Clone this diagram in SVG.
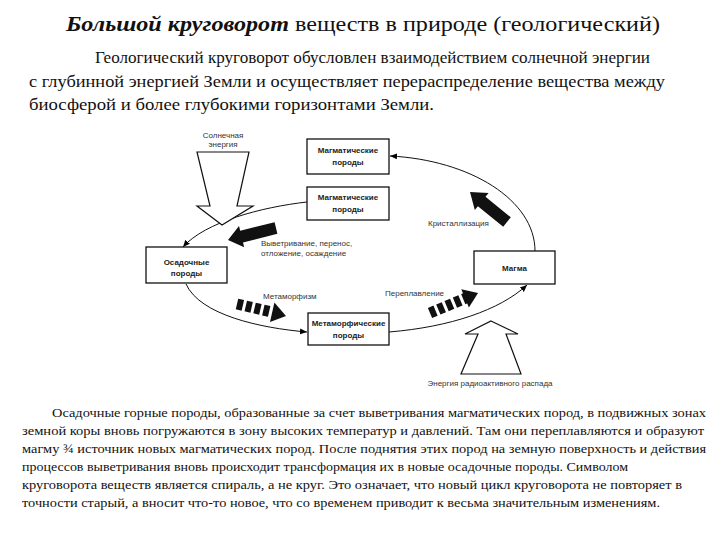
<svg xmlns="http://www.w3.org/2000/svg" width="720" height="540" viewBox="0 0 720 540">
<defs>
<marker id="ah" markerWidth="8" markerHeight="8" refX="7" refY="4" orient="auto" markerUnits="userSpaceOnUse">
<path d="M0,1 L7,4 L0,7 Z" fill="#000"/>
</marker>
<style>
.serif{font-family:"Liberation Serif","Times New Roman",serif;fill:#111}
.lbl{font-family:"Liberation Sans",Arial,sans-serif;font-size:8px;fill:#333}
.bx{fill:#fff;stroke:#111;stroke-width:1.3}
.bt{font-family:"Liberation Sans",Arial,sans-serif;font-size:8px;font-weight:bold;fill:#222;text-anchor:middle}
.cv{fill:none;stroke:#111;stroke-width:1}
.hollow{fill:#fff;stroke:#111;stroke-width:1.2;stroke-linejoin:miter}
.blk{fill:#111}
.dash{stroke:#111;stroke-width:11;stroke-dasharray:6 3;fill:none}
</style>
</defs>
<rect width="720" height="540" fill="#fff"/>

<text class="serif" x="66" y="31" font-size="21" textLength="594" lengthAdjust="spacingAndGlyphs"><tspan font-weight="bold" font-style="italic">Большой круговорот</tspan> веществ в природе (геологический)</text>

<g class="serif" font-size="17">
<text x="95" y="63" textLength="555" lengthAdjust="spacingAndGlyphs">Геологический круговорот обусловлен взаимодействием солнечной энергии</text>
<text x="29" y="87" textLength="636" lengthAdjust="spacingAndGlyphs">с глубинной энергией Земли и осуществляет перераспределение вещества между</text>
<text x="29" y="110" textLength="405" lengthAdjust="spacingAndGlyphs">биосферой и более глубокими горизонтами Земли.</text>
</g>

<g id="connectors">
<path class="cv" d="M535,251 C535,200 470,160 390,156" marker-end="url(#ah)"/>
<path class="cv" d="M307,202 C262,207 205,222 183,247" marker-end="url(#ah)"/>
<path class="cv" d="M186,284 C200,315 260,328 307,332" marker-end="url(#ah)"/>
<path class="cv" d="M389,332 C450,327 500,310 527,285" marker-end="url(#ah)"/>
</g>

<g id="solar-energy">
<polygon class="hollow" points="197,152 249,152 237,206 253,206 222,225 197,206 210,206"/>
<text class="lbl" x="223" y="138" text-anchor="middle">Солнечная</text>
<text class="lbl" x="223" y="147" text-anchor="middle">энергия</text>
</g>

<g id="radioactive-energy">
<polygon class="hollow" points="491,321 518,334 506,334 521,374 461,374 478,334 465,334"/>
<text class="lbl" x="490" y="386" text-anchor="middle">Энергия радиоактивного распада</text>
</g>

<g id="weathering">
<polygon class="blk" points="274.6,222.2 240.2,230.8 239,225.9 228,240 244.2,247.3 243,242.4 277.4,233.8"/>
<text class="lbl" x="261" y="246">Выветривание, перенос,</text>
<text class="lbl" x="261" y="256">отложение, осаждение</text>
</g>

<g id="crystallization">
<polygon class="blk" points="510.8,217.3 485.5,196.8 488.6,193 470,192 474.8,210 477.9,206.2 503.2,226.7"/>
<text class="lbl" x="428" y="226">Кристаллизация</text>
</g>

<g id="metamorphism">
<line class="dash" x1="237" y1="304" x2="272" y2="312"/>
<polygon class="blk" points="274.4,302.6 286,316 270,321.9"/>
<text class="lbl" x="263" y="299">Метаморфизм</text>
</g>

<g id="remelting">
<line class="dash" x1="430" y1="313" x2="466" y2="298"/>
<polygon class="blk" points="461.3,289.2 478,293 468.9,307.6"/>
<text class="lbl" x="385" y="296">Переплавление</text>
</g>

<g id="magmatic-1">
<rect class="bx" x="307" y="139" width="82" height="35"/>
<text class="bt" x="348" y="153">Магматические</text>
<text class="bt" x="348" y="165">породы</text>
</g>
<g id="magmatic-2">
<rect class="bx" x="307" y="187" width="82" height="33"/>
<text class="bt" x="348" y="200">Магматические</text>
<text class="bt" x="348" y="212">породы</text>
</g>
<g id="sedimentary">
<rect class="bx" x="146" y="247" width="81" height="36"/>
<text class="bt" x="186.5" y="265">Осадочные</text>
<text class="bt" x="186.5" y="276">породы</text>
</g>
<g id="magma">
<rect class="bx" x="474" y="251" width="81" height="33"/>
<text class="bt" x="514.5" y="271">Магма</text>
</g>
<g id="metamorphic">
<rect class="bx" x="308" y="313" width="81" height="32"/>
<text class="bt" x="348.5" y="326">Метаморфические</text>
<text class="bt" x="348.5" y="338">породы</text>
</g>

<g class="serif" font-size="13">
<text x="52" y="417" textLength="654" lengthAdjust="spacingAndGlyphs">Осадочные горные породы, образованные за счет выветривания магматических пород, в подвижных зонах</text>
<text x="22" y="435" textLength="682" lengthAdjust="spacingAndGlyphs">земной коры вновь погружаются в зону высоких температур и давлений. Там они переплавляются и образуют</text>
<text x="22" y="453" textLength="684" lengthAdjust="spacingAndGlyphs">магму ¾ источник новых магматических пород. После поднятия этих пород на земную поверхность и действия</text>
<text x="22" y="471" textLength="606" lengthAdjust="spacingAndGlyphs">процессов выветривания вновь происходит трансформация их в новые осадочные породы. Символом</text>
<text x="22" y="489" textLength="660" lengthAdjust="spacingAndGlyphs">круговорота веществ является спираль, а не круг. Это означает, что новый цикл круговорота не повторяет в</text>
<text x="22" y="507" textLength="638" lengthAdjust="spacingAndGlyphs">точности старый, а вносит что-то новое, что со временем приводит к весьма значительным изменениям.</text>
</g>
</svg>
